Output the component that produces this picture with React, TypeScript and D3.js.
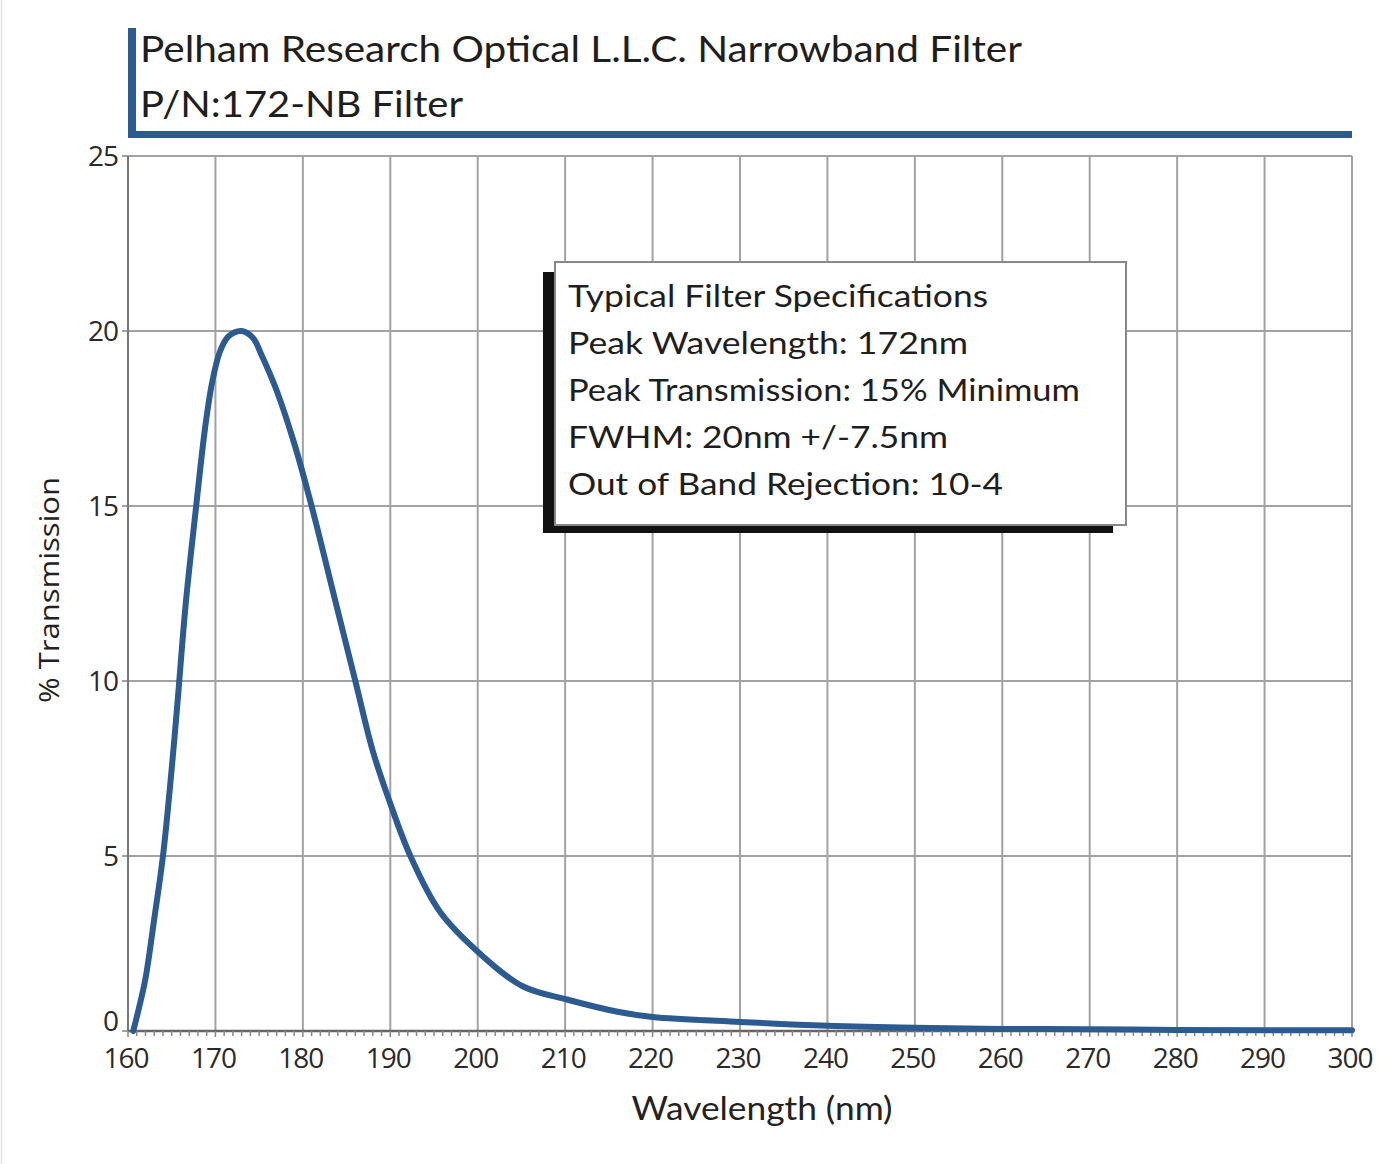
import React from "react";
import * as d3 from "d3";

const wavelengths = [160.6, 161.2, 162, 163, 164, 165, 165.7, 166.6, 167.8, 168.8, 169.6, 170.5, 171.5, 173, 174.3, 175.3, 177, 179, 181, 183.5, 186, 188, 190, 192.3, 195.7, 200.3, 205.2, 210.2, 216, 220, 230, 240, 250, 260, 270, 280, 290, 300];
const transmission = [0.0, 0.6, 1.5, 3.2, 5.0, 7.5, 9.5, 12.2, 15.0, 17.2, 18.5, 19.4, 19.85, 20.0, 19.8, 19.3, 18.3, 16.8, 15.0, 12.5, 10.0, 8.0, 6.5, 5.0, 3.4, 2.2, 1.27, 0.9, 0.55, 0.4, 0.26, 0.15, 0.09, 0.06, 0.05, 0.03, 0.02, 0.02];
const xTicks = [160, 170, 180, 190, 200, 210, 220, 230, 240, 250, 260, 270, 280, 290, 300];
const yTicks = [0, 5, 10, 15, 20, 25];
const titleLines = ["Pelham Research Optical L.L.C. Narrowband Filter", "P/N:172-NB Filter"];
const specLines = [
  "Typical Filter Specifications",
  "Peak Wavelength: 172nm",
  "Peak Transmission: 15% Minimum",
  "FWHM: 20nm +/-7.5nm",
  "Out of Band Rejection: 10-4",
];

const W = 1384;
const H = 1164;
const L = 128, R = 1352, T = 156, B = 1031;
const blue = "#2c5b91";
const geo = "Lato, 'Open Sans', sans-serif";
const tickFont = "'Open Sans', 'Noto Sans', sans-serif";

export default function App() {
  const x = d3.scaleLinear().domain([160, 300]).range([L, R]);
  const y = d3.scaleLinear().domain([0, 25]).range([B, T]);
  const pts = wavelengths.map((w, i) => [w, transmission[i]] as [number, number]);
  const line = d3
    .line<[number, number]>()
    .x((d) => x(d[0]))
    .y((d) => y(d[1]))
    .curve(d3.curveCatmullRom.alpha(0.5));
  const minor = d3.range(160, 301, 1);
  const titleWidths = [882, 323];
  const specWidths = [420, 400, 512, 380, 435];

  return (
    <svg width={W} height={H} style={{ position: "absolute", left: 0, top: 0, background: "#fff" }}>
      <rect x={0} y={0} width={W} height={H} fill="#fff" />
      <line x1={1.5} x2={1.5} y1={0} y2={H} stroke="#e4e4e4" strokeWidth={1.5} />
      {/* grid */}
      {xTicks.map((t) => (
        <line key={"gx" + t} x1={x(t)} x2={x(t)} y1={T} y2={B} stroke="#a2a2a2" strokeWidth={2} />
      ))}
      {yTicks.map((t) => (
        <line key={"gy" + t} x1={L - 6} x2={R} y1={y(t)} y2={y(t)} stroke="#a2a2a2" strokeWidth={2} />
      ))}
      <line x1={L} x2={L} y1={T} y2={B} stroke="#777" strokeWidth={2} />
      <line x1={L} x2={R} y1={B} y2={B} stroke="#666" strokeWidth={2.5} />
      {minor.map((t) => (
        <line key={"m" + t} x1={x(t)} x2={x(t)} y1={B} y2={B + (t % 10 === 0 ? 6 : 5)} stroke="#888" strokeWidth={1.5} />
      ))}
      {/* tick labels */}
      {xTicks.map((t) => (
        <text key={"xl" + t} x={x(t) - 2} y={1068} fontSize={28} fontFamily={tickFont} textAnchor="middle" fill="#2a2a2a" letterSpacing={-1}>
          {t}
        </text>
      ))}
      {yTicks.map((t) => (
        <text key={"yl" + t} x={118} y={y(t) + (t === 0 ? -7 : 3)} fontSize={28} fontFamily={tickFont} textAnchor="end" fill="#2a2a2a" letterSpacing={-1} dominantBaseline="middle">
          {t}
        </text>
      ))}
      <text x={762} y={1120} fontSize={32} fontFamily={geo} textAnchor="middle" fill="#222" textLength={261} lengthAdjust="spacingAndGlyphs">
        Wavelength (nm)
      </text>
      <text transform="translate(59,590) rotate(-90)" fontSize={28} fontFamily={tickFont} textAnchor="middle" fill="#222" textLength={226} lengthAdjust="spacingAndGlyphs">
        % Transmission
      </text>
      {/* curve */}
      <path d={line(pts) || ""} fill="none" stroke={blue} strokeWidth={6} strokeLinejoin="round" strokeLinecap="round" />
      {/* title bracket */}
      <rect x={128} y={28} width={8} height={110} fill={blue} />
      <rect x={128} y={131} width={1224} height={7} fill={blue} />
      {titleLines.map((s, i) => (
        <text key={"t" + i} x={140} y={62 + i * 55} fontSize={36} fontFamily={geo} fill="#1e1e1e" textLength={titleWidths[i]} lengthAdjust="spacingAndGlyphs">
          {s}
        </text>
      ))}
      {/* spec box */}
      <rect x={543} y={272} width={570} height={261} fill="#111" />
      <rect x={555} y={262} width={571} height={263} fill="#fff" stroke="#888" strokeWidth={2} />
      {specLines.map((s, i) => (
        <text key={"s" + i} x={568} y={307 + i * 47} fontSize={31} fontFamily={geo} fill="#1e1e1e" textLength={specWidths[i]} lengthAdjust="spacingAndGlyphs">
          {s}
        </text>
      ))}
    </svg>
  );
}
